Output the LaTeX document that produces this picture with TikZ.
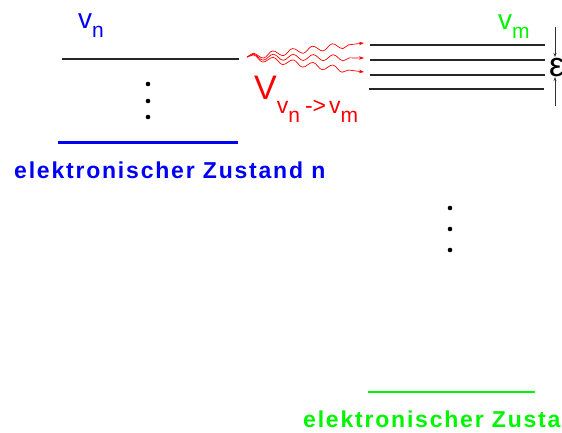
\documentclass[tikz,border=0pt]{standalone}
\usepackage{fontspec}
\setmainfont{Liberation Sans}
\newfontfamily\zustandfont[LetterSpace=7.8]{Liberation Sans Bold}
\definecolor{stblue}{RGB}{0,0,245}
\definecolor{stgreen}{RGB}{0,245,0}
\definecolor{stred}{RGB}{250,0,0}
\usetikzlibrary{arrows.meta,positioning,decorations.pathmorphing}

% vibrational level label: letter with lowered index
\newcommand{\viblabel}[2]{{\fontsize{28}{28}\selectfont #1\raisebox{-9pt}{\fontsize{21}{21}\selectfont #2}}}

\begin{document}
\begin{tikzpicture}[
    x=1pt, y=1pt,
    level/.style={line width=1.3pt, black!85},
    elstate/.style={line width=2.2pt},
    statetext/.style={anchor=base west, inner sep=0pt, font=\zustandfont\fontsize{23}{23}\selectfont},
    label/.style={anchor=base west, inner sep=0pt},
    wave/.style={->, red, line width=0.7pt,
                 decorate, decoration={snake, amplitude=3pt, segment length=20pt, post length=6pt},
                 >={Stealth[length=5pt,width=3.5pt]}},
    gap/.style={->, black!80, line width=0.6pt, >={Stealth[length=4pt,width=3pt]}}
  ]
    \useasboundingbox (0,0) rectangle (562,-432);
    \clip (0,0) rectangle (562,-432);

    % State n (left)
    \draw[level] (62,-59) coordinate (n0) -- (239,-59) coordinate (n1);
    \foreach \y in {84,101,117} \fill (148,-\y) circle (2.3pt);
    \draw[elstate, stblue] (58,-142.5) -- (238,-142.5);
    \node[label, text=stblue] (vn) at (78,-28) {\viblabel{v}{n}};
    \node[statetext, text=stblue] (zn) at (14,-178) {elektronischer Zustand n};

    % State m (right), vibrational manifold
    \draw[level] (370,-45) coordinate (m1) -- (545,-45);
    \draw[level] (370,-60) coordinate (m2) -- (545,-60);
    \draw[level] (370,-75) coordinate (m3) -- (545,-75);
    \draw[level] (369,-89) coordinate (m4) -- (544,-89);
    \node[label, text=stgreen] (vm) at (498,-29) {\viblabel{v}{m}};
    \foreach \y in {208,229,250} \fill (450,-\y) circle (2.3pt);
    \draw[elstate, stgreen] (368,-392) -- (535,-392);
    \node[statetext, text=stgreen] (zm) at (303,-427) {elektronischer Zustand m};

    % Level spacing epsilon
    \coordinate (g0) at (555,-27);
    \coordinate (g1) at (555,-57);
    \coordinate (g2) at (555,-77);
    \coordinate (g3) at (555,-106);
    \draw[gap] (g0) -- (g1);
    \draw[gap] (g3) -- (g2);
    \node[label] (eps) at (549,-76) {\fontsize{34}{34}\selectfont ε};

    % Coupling
    \coordinate (src) at (247,-57);
    \coordinate (t1) at (364,-43);
    \coordinate (t2) at (364,-58);
    \coordinate (t3) at (364,-72);
    \draw[wave] (src) -- (t1);
    \draw[wave] (src) -- (t2);
    \draw[wave] (src) -- (t3);
    \node[label, text=stred] (cpl) at (254,-99)
      {{\fontsize{34}{34}\selectfont V}{\fontsize{23}{23}\selectfont\raisebox{-14pt}{v\raisebox{-9pt}{\fontsize{21}{21}\selectfont n}\kern5pt->\kern3pt v\raisebox{-9pt}{\fontsize{21}{21}\selectfont m}}}};
  \end{tikzpicture}
\end{document}
